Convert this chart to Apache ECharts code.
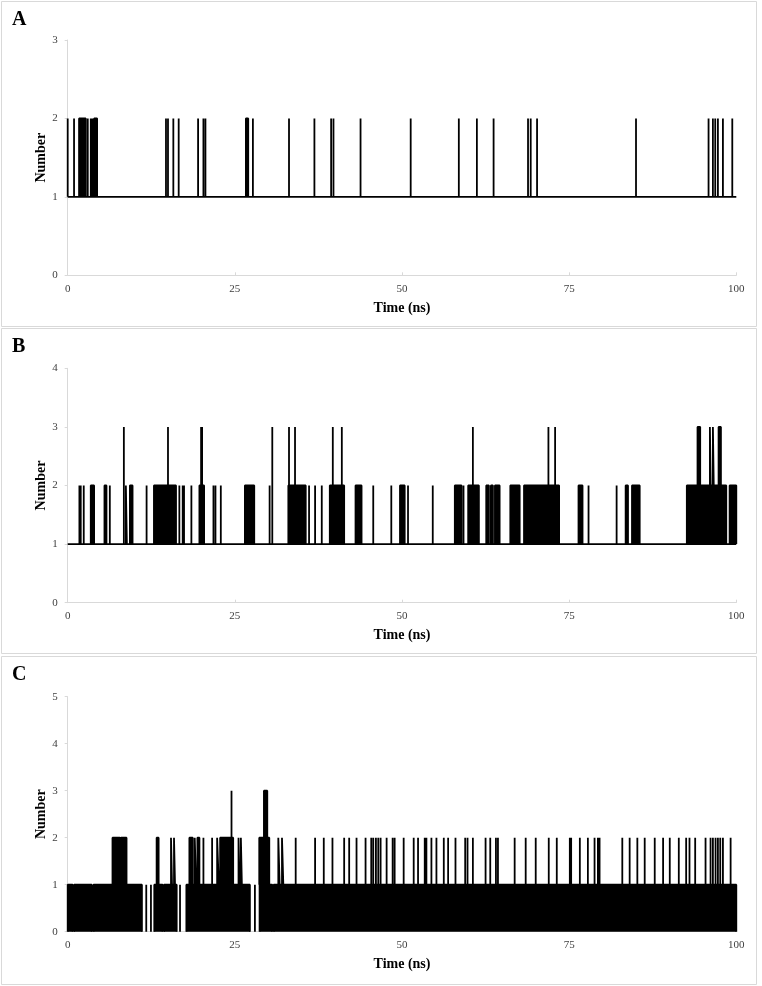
<!DOCTYPE html>
<html><head><meta charset="utf-8">
<script src="https://cdn.jsdelivr.net/npm/echarts@6/dist/echarts.min.js"></script>
<style>html,body{margin:0;padding:0;background:#fff}#c{width:762px;height:986px}</style>
</head><body><div id="c"></div><script>
// ---- data (time in ns) ----
const panelLabels = ['A', 'B', 'C'];
const yMaxes = [3, 4, 5];
const xMin = 0, xMax = 100, xStep = 25;
const baselineA = 1, baselineB = 1, baselineC = 0;

// Panel A: excursions 1 -> 2
const A_spikes2 = [0.0, 0.95, 3.0, 3.45, 3.7, 14.7, 15.0, 15.8, 16.6, 19.5, 20.3, 20.6, 27.7, 33.1, 36.9, 39.4, 39.75, 43.8,
  51.3, 58.5, 61.2, 63.7, 68.85, 69.25, 70.2, 85.0, 95.85, 96.5, 96.85, 97.25, 98.0, 99.4];
const A_blocks2 = [[1.7, 2.7], [3.95, 4.4], [26.65, 27.0]];

// Panel B: excursions 1 -> 2 and 1 -> 3
const B_spikes2 = [1.75, 1.95, 2.4, 6.3, 11.8, 16.7, 17.2, 17.4, 18.5, 21.8, 22.1, 22.9, 30.2, 36.1, 37.0, 38.0, 45.7, 48.4,
  50.9, 54.6, 59.2, 77.9, 82.1];
const B_blocks2 = [[3.45, 3.95], [5.5, 5.8], [8.7, 8.85], [9.3, 9.7], [12.9, 16.2], [19.7, 20.4], [26.5, 27.9], [33.0, 35.6],
  [39.2, 41.35], [43.05, 43.95], [49.7, 50.4], [57.9, 58.9], [59.9, 61.5], [62.6, 63.0], [63.3, 63.6], [63.9, 64.6],
  [66.2, 67.6], [68.25, 73.5], [76.4, 77.0], [83.45, 83.8], [84.4, 85.55], [92.6, 98.5], [99.0, 100]];
const B_spikes3 = [8.4, 15.0, 19.95, 20.1, 30.6, 33.1, 34.0, 39.65, 41.0, 60.6, 71.9, 72.9];
const B_blocks3 = [[94.2, 94.6], [96.05, 96.3], [96.5, 96.75], [97.35, 97.7]];

// Panel C: occupancy 0 <-> 1 (dense stretches), excursions to 2 and 3
const C_lines1 = [11.75, 12.45, 16.8, 28.0];
const C_blocks1 = [[0.0, 0.75], [0.95, 3.6], [3.85, 11.1], [12.95, 14.2], [14.4, 16.3], [17.75, 27.25], [28.7, 30.6], [30.8, 100]];
const C_spikes2 = [20.3, 21.6, 34.1, 37.0, 38.3, 39.6, 41.35, 42.1, 43.2, 44.55, 45.4, 45.7, 46.1, 46.45, 46.8, 47.7, 48.6, 48.9,
  50.25, 51.75, 52.4, 53.4, 53.65, 54.4, 55.15, 56.25, 56.9, 58.0, 59.45, 59.8, 60.6, 62.5, 63.2, 64.05, 64.35, 66.85,
  68.5, 70.0, 71.95, 73.15, 75.1, 75.3, 76.6, 77.8, 78.8, 79.3, 79.55, 82.95, 84.05, 85.2, 86.3, 87.8, 89.05, 90.05,
  91.4, 92.5, 93.0, 93.85, 95.4, 96.15, 96.5, 96.9, 97.25, 97.6, 98.0, 99.15];
const C_blocks2 = [[6.7, 7.8], [7.95, 8.8], [13.3, 13.6], [15.45, 15.6], [15.9, 16.05], [18.2, 18.7], [19.0, 19.2], [19.4, 19.7],
  [22.35, 22.6], [22.8, 24.75], [25.55, 25.7], [25.9, 26.05], [28.65, 30.15], [31.5, 31.7], [32.05, 32.25]];
const C_spikes3 = [24.5];
const C_blocks3 = [[29.35, 29.85]];

// ---- build step traces from the read events ----
function pulses(spikes, blocks, base, lv) {
  const items = spikes.map(t => [t, t]).concat(blocks).sort((a, b) => a[0] - b[0]);
  const d = [];
  for (const [s, e] of items) d.push([s, base], [s, lv], [e, lv], [e, base], [e, '-']);
  return d;
}
function trace(i, data, origin) {
  const s = {
    type: 'line', xAxisIndex: i, yAxisIndex: i, data: data, symbol: 'none', showSymbol: false,
    connectNulls: false, silent: true, animation: false,
    lineStyle: { color: '#000', width: 1.8 }, itemStyle: { color: '#000' }
  };
  if (origin != null) s.areaStyle = { color: '#000', opacity: 1, origin: origin };
  return s;
}

const serif = '"Liberation Serif","Times New Roman",serif';
const gridTops = [40, 368.3, 696.7];
const gridHeights = [235.3, 234.4, 235];
const boxes = [[1.5, 1.5, 755, 325], [1.5, 328.5, 755, 325], [1.5, 656.5, 755, 328]];
const titleTops = [10, 337, 665];

const grids = [], xAxes = [], yAxes = [], titles = [];
for (let i = 0; i < 3; i++) {
  grids.push({ left: 67.7, width: 668.6, top: gridTops[i], height: gridHeights[i] });
  xAxes.push({
    type: 'value', gridIndex: i, min: xMin, max: xMax, interval: xStep,
    axisLine: { lineStyle: { color: '#d9d9d9', width: 1 } },
    axisTick: { show: true, inside: true, length: 3, lineStyle: { color: '#d9d9d9' } },
    splitLine: { show: false },
    axisLabel: { fontFamily: serif, fontSize: 11, color: '#404040', margin: 8 },
    name: 'Time (ns)', nameLocation: 'middle', nameGap: 26, nameMoveOverlap: false,
    nameTextStyle: { fontFamily: serif, fontWeight: 'bold', fontSize: 14, color: '#000' }
  });
  yAxes.push({
    type: 'value', gridIndex: i, min: 0, max: yMaxes[i], interval: 1,
    axisLine: { show: true, lineStyle: { color: '#d9d9d9', width: 1 } },
    axisTick: { show: true, length: 3, lineStyle: { color: '#d9d9d9' } },
    splitLine: { show: false },
    axisLabel: { fontFamily: serif, fontSize: 11, color: '#404040', margin: 10 },
    name: 'Number', nameLocation: 'middle', nameGap: 19, nameMoveOverlap: false,
    nameTextStyle: { fontFamily: serif, fontWeight: 'bold', fontSize: 14, color: '#000' }
  });
  titles.push({
    text: panelLabels[i], left: 12, top: titleTops[i], padding: 0,
    textStyle: { fontFamily: serif, fontWeight: 'bold', fontSize: 20, color: '#000' }
  });
}

const series = [
  trace(0, [[xMin, baselineA], [xMax, baselineA]]),
  trace(0, pulses(A_spikes2, A_blocks2, baselineA, 2), baselineA),
  trace(1, [[xMin, baselineB], [xMax, baselineB]]),
  trace(1, pulses(B_spikes2, B_blocks2, baselineB, 2), baselineB),
  trace(1, pulses(B_spikes3, B_blocks3, baselineB, 3), baselineB),
  trace(2, pulses(C_lines1, C_blocks1, baselineC, 1), baselineC),
  trace(2, pulses(C_spikes2, C_blocks2, 1, 2), 1),
  trace(2, pulses(C_spikes3, C_blocks3, 2, 3), 2)
];

const chart = echarts.init(document.getElementById('c'), null, { renderer: 'canvas' });
chart.setOption({
  backgroundColor: '#fff',
  animation: false,
  title: titles,
  grid: grids,
  xAxis: xAxes,
  yAxis: yAxes,
  graphic: boxes.map(b => ({
    type: 'rect', silent: true, z: -1,
    shape: { x: b[0], y: b[1], width: b[2], height: b[3] },
    style: { fill: 'none', stroke: '#d9d9d9', lineWidth: 1 }
  })),
  series: series
});
</script></body></html>
